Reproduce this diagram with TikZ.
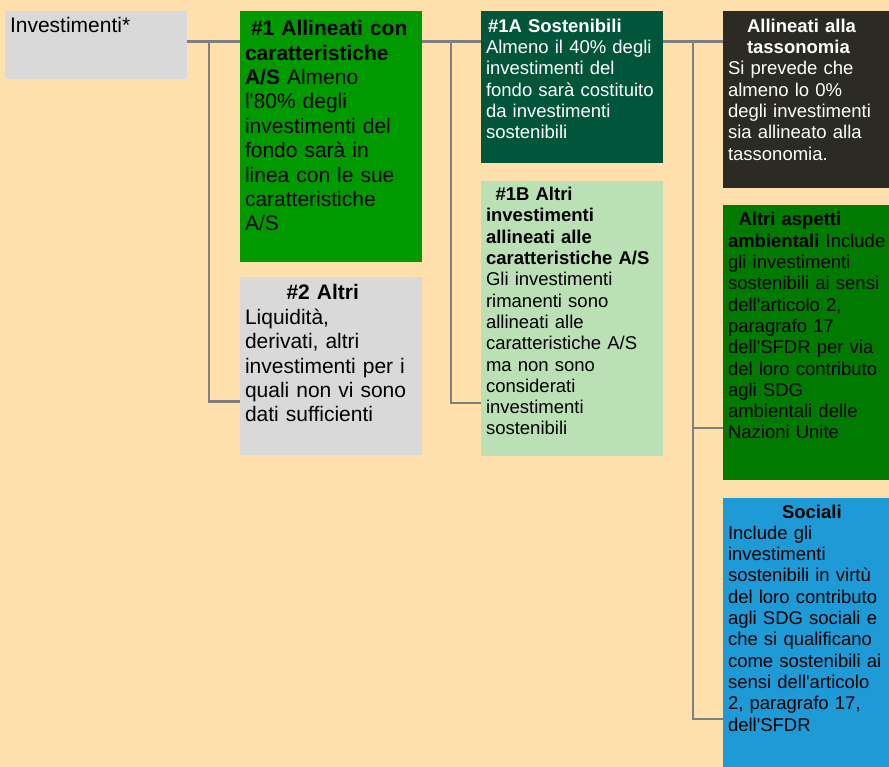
\documentclass[tikz,border=0pt]{standalone}
\usepackage{fontspec}
\setmainfont{Liberation Sans}
\usepackage{xcolor}
\definecolor{peachbg}{HTML}{FFDFAB}
\definecolor{boxgray}{HTML}{D9D9D9}
\definecolor{asgreen}{HTML}{009900}
\definecolor{susgreen}{HTML}{00553A}
\definecolor{restgreen}{HTML}{BCE0B6}
\definecolor{taxdark}{HTML}{2B2B23}
\definecolor{envgreen}{HTML}{007A00}
\definecolor{socblue}{HTML}{1E9BD7}
\definecolor{linkgray}{HTML}{7F7F7F}
\usepackage{tikz}
\usetikzlibrary{positioning}

\begin{document}
\begin{tikzpicture}[
    x=1pt, y=-1pt,
    box/.style={rectangle, fill=#1, inner xsep=5pt, inner ysep=0pt, outer sep=0pt, align=left},
    wide/.style={box=#1, text width=172pt, font=\fontsize{21}{24.4}\selectfont},
    narrow/.style={box=#1, text width=172pt, font=\fontsize{18.5}{21.3}\selectfont},
    side/.style={box=#1, text width=160pt, font=\fontsize{18.5}{21.3}\selectfont},
    link/.style={draw=linkgray, line width=2.7pt},
]
    \useasboundingbox (0,0) rectangle (889,767);
    \fill[peachbg] (0,0) rectangle (889,767);

    \node[wide=boxgray, anchor=north west, text height=21.7pt, text depth=46.3pt] (inv) at (5,11) {Investimenti*};
    \node[wide=asgreen, anchor=north west, text height=24.7pt, text depth=226.3pt] (as) at (240,11)
        {\textbf{\hspace*{6pt}\#1 Allineati con}\\\textbf{caratteristiche}\\\textbf{A/S} Almeno\\l\textquotesingle 80\% degli\\investimenti del\\fondo sarà in\\linea con le sue\\caratteristiche\\A/S};
    \node[wide=boxgray, below=15pt of as, text height=23pt, text depth=155pt] (oth)
        {\textbf{\hspace*{41.5pt}\#2 Altri}\\Liquidità,\\derivati, altri\\investimenti per i\\quali non vi sono\\dati sufficienti};

    \node[narrow=susgreen, text=white, anchor=north west, text height=21.3pt, text depth=130.7pt] (sus) at (481,11)
        {\textbf{\hspace*{2pt}\#1A Sostenibili}\\Almeno il 40\% degli\\investimenti del\\fondo sarà costituito\\da investimenti\\sostenibili};
    \node[narrow=restgreen, below=18pt of sus, text height=19.7pt, text depth=255.3pt] (rest)
        {\textbf{\hspace*{9.5pt}\#1B Altri}\\\textbf{investimenti}\\\textbf{allineati alle}\\\textbf{caratteristiche A/S}\\Gli investimenti\\rimanenti sono\\allineati alle\\caratteristiche A/S\\ma non sono\\considerati\\investimenti\\sostenibili};

    \node[side=taxdark, text=white, anchor=north west, text height=21.3pt, text depth=155.7pt] (tax) at (723,11)
        {\textbf{\hspace*{19pt}Allineati alla}\\\textbf{\hspace*{19pt}tassonomia}\\Si prevede che\\almeno lo 0\%\\degli investimenti\\sia allineato alla\\tassonomia.};
    \node[side=envgreen, below=17pt of tax, text height=21pt, text depth=254pt] (env)
        {\textbf{\hspace*{10.5pt}Altri aspetti}\\\textbf{ambientali} Include\\gli investimenti\\sostenibili ai sensi\\dell\textquotesingle articolo 2,\\paragrafo 17\\dell\textquotesingle SFDR per via\\del loro contributo\\agli SDG\\ambientali delle\\Nazioni Unite};
    \node[side=socblue, below=18pt of env, text height=20pt, text depth=249pt] (soc)
        {\textbf{\hspace*{54pt}Sociali}\\Include gli\\investimenti\\sostenibili in virtù\\del loro contributo\\agli SDG sociali e\\che si qualificano\\come sostenibili ai\\sensi dell\textquotesingle articolo\\2, paragrafo 17,\\dell\textquotesingle SFDR};

    % branch points
    \coordinate (j1) at (209,41.3);
    \coordinate (j1b) at (209,401.7);
    \coordinate (j2) at (451,41.3);
    \coordinate (j2b) at (451,403);
    \coordinate (j3) at (693,41.3);
    \coordinate (j3m) at (693,428);
    \coordinate (j3b) at (693,719);

    \draw[link] (inv.east |- j1) -- (as.west |- j1);
    \draw[link] (j1) -- (j1b) -- (oth.west |- j1b);
    \draw[link] (as.east |- j2) -- (sus.west |- j2);
    \draw[link] (j2) -- (j2b) -- (rest.west |- j2b);
    \draw[link] (sus.east |- j3) -- (tax.west |- j3);
    \draw[link] (j3) -- (j3b) -- (soc.west |- j3b);
    \draw[link] (j3m) -- (env.west |- j3m);
\end{tikzpicture}
\end{document}
